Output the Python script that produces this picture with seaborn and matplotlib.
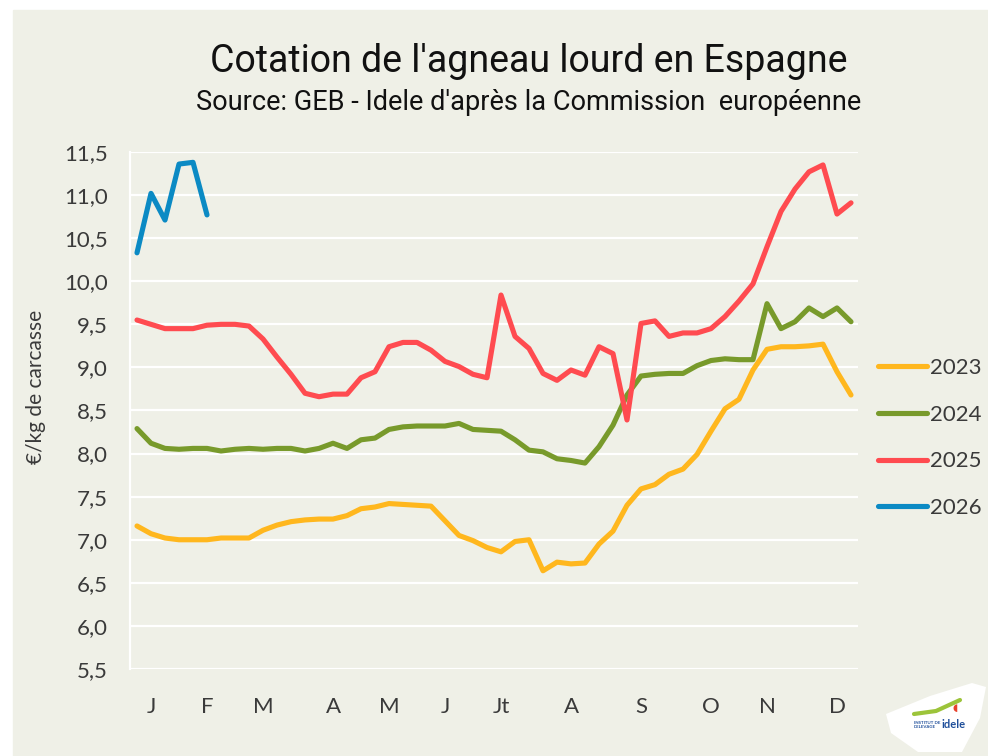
import numpy as np
import pandas as pd
import matplotlib
matplotlib.use("Agg")
import matplotlib.pyplot as plt
import matplotlib.patches as mpatches
from matplotlib.lines import Line2D
import seaborn as sns

# ── data (weekly quotation, €/kg carcass) ──
weeks = list(range(52))
month_pos = [1, 5, 9, 14, 18, 22, 26, 31, 36, 41, 45, 50]
month_labels = ["J", "F", "M", "A", "M", "J", "Jt", "A", "S", "O", "N", "D"]

y2023 = [7.16, 7.07, 7.02, 7.00, 7.00, 7.00, 7.02, 7.02, 7.02, 7.11,
         7.17, 7.21, 7.23, 7.24, 7.24, 7.28, 7.36, 7.38, 7.42, 7.41,
         7.40, 7.39, 7.22, 7.05, 6.99, 6.91, 6.86, 6.98, 7.00, 6.64,
         6.74, 6.72, 6.73, 6.95, 7.10, 7.40, 7.59, 7.64, 7.76, 7.82,
         7.99, 8.26, 8.52, 8.63, 8.97, 9.21, 9.24, 9.24, 9.25, 9.27,
         8.95, 8.68]
y2024 = [8.29, 8.12, 8.06, 8.05, 8.06, 8.06, 8.03, 8.05, 8.06, 8.05,
         8.06, 8.06, 8.03, 8.06, 8.12, 8.06, 8.16, 8.18, 8.28, 8.31,
         8.32, 8.32, 8.32, 8.35, 8.28, 8.27, 8.26, 8.16, 8.04, 8.02,
         7.94, 7.92, 7.89, 8.08, 8.33, 8.68, 8.90, 8.92, 8.93, 8.93,
         9.02, 9.08, 9.10, 9.09, 9.09, 9.74, 9.45, 9.53, 9.69, 9.59,
         9.69, 9.53]
y2025 = [9.55, 9.50, 9.45, 9.45, 9.45, 9.49, 9.50, 9.50, 9.48, 9.33,
         9.12, 8.92, 8.70, 8.66, 8.69, 8.69, 8.88, 8.95, 9.24, 9.29,
         9.29, 9.20, 9.07, 9.01, 8.92, 8.88, 9.84, 9.36, 9.22, 8.93,
         8.85, 8.97, 8.91, 9.24, 9.16, 8.39, 9.51, 9.54, 9.36, 9.40,
         9.40, 9.45, 9.59, 9.77, 9.97, 10.40, 10.81, 11.07, 11.27, 11.35,
         10.78, 10.91]
y2026 = [10.33, 11.02, 10.71, 11.36, 11.38, 10.77]

years = ["2023", "2024", "2025", "2026"]
series = [y2023, y2024, y2025, y2026]
colors = {"2023": "#FFB71E", "2024": "#789A2B", "2025": "#FF4B50", "2026": "#0B8AC4"}

df = pd.concat([
    pd.DataFrame({"week": weeks[:len(s)], "price": s, "year": yr})
    for yr, s in zip(years, series)
], ignore_index=True)

# ── style ──
sns.set_style("white")
plt.rcParams["font.family"] = ["Lato", "DejaVu Sans"]
BG = "#EFF0E7"
TXT = "#3A3A3A"

W, H = 988, 756
fig = plt.figure(figsize=(W / 100, H / 100), dpi=100, facecolor="white")
fx = lambda px: px / W
fy = lambda py: 1 - py / H

# beige panel (white strip left and top)
fig.patches.append(mpatches.Rectangle((fx(13), 0), 1 - fx(13), fy(10),
                                      transform=fig.transFigure, color=BG, zorder=-10))

ax = fig.add_axes([fx(130), fy(669), fx(858) - fx(130), fy(152) - fy(669)])
ax.set_facecolor(BG)

sns.lineplot(data=df, x="week", y="price", hue="year", palette=colors,
             linewidth=3.7, ax=ax, legend=False, solid_capstyle="round")

ax.set_xlim(-0.5, 51.5)
ax.set_ylim(5.5, 11.5)
ax.set_yticks(np.arange(5.5, 11.51, 0.5))
ax.set_yticklabels([f"{v:.1f}".replace(".", ",") for v in np.arange(5.5, 11.51, 0.5)])
ax.set_xticks(month_pos)
ax.set_xticklabels(month_labels)
ax.grid(axis="y", color="white", linewidth=1.6)
ax.grid(axis="x", visible=False)
ax.set_axisbelow(True)
for side in ["top", "right", "bottom"]:
    ax.spines[side].set_visible(False)
ax.spines["left"].set_color("white")
ax.spines["left"].set_linewidth(1.6)
ax.tick_params(axis="y", length=6, width=1.6, color="white", pad=10,
               labelsize=16, labelcolor=TXT)
ax.tick_params(axis="x", length=0, pad=20, labelsize=16, labelcolor=TXT)
ax.set_xlabel("")
ax.set_ylabel("")

fig.text(fx(36), fy(387), "€/kg de carcasse", rotation=90, ha="center",
         va="center", fontsize=15, color=TXT)

# legend
handles = [Line2D([0], [0], color=colors[y], linewidth=3.7, solid_capstyle="round")
           for y in years]
fig.legend(handles, years, loc="upper left",
           bbox_to_anchor=(fx(878), fy(358)), frameon=False, borderpad=0,
           borderaxespad=0, fontsize=16, labelcolor=TXT, handlelength=2.2,
           handletextpad=0.15, labelspacing=1.2)

# titles
title_font = ["Roboto", "DejaVu Sans"]
fig.text(fx(529), fy(62), "Cotation de l'agneau lourd en Espagne", ha="center",
         va="center", fontsize=27, color="#111111", family=title_font,
         fontstretch="condensed")
fig.text(fx(529), fy(103), "Source: GEB - Idele d'après la Commission  européenne",
         ha="center", va="center", fontsize=19.5, color="#111111", family=title_font,
         fontstretch="condensed")

# logo (approximate)
logo = [(886, 714), (930, 696), (972, 683), (986, 687), (980, 718),
        (962, 752), (918, 752), (891, 733)]
fig.patches.append(mpatches.Polygon([(fx(x), fy(y)) for x, y in logo],
                                    closed=True, transform=fig.transFigure,
                                    facecolor="white", edgecolor="none", zorder=1))
fig.lines.append(Line2D([fx(914), fx(936), fx(960)], [fy(714), fy(711), fy(700)],
                        transform=fig.transFigure, color="#9CC43A", linewidth=3,
                        zorder=2))
fig.text(fx(955), fy(708), "◖", fontsize=7, color="#E8412C", ha="center",
         va="center", zorder=3)
fig.text(fx(914), fy(725), "INSTITUT DE\nL'ELEVAGE", fontsize=3.2, color="#1E4E9A",
         ha="left", va="center", fontweight="bold", zorder=3)
fig.text(fx(941), fy(724), "idele", fontsize=8, color="#1E4E9A",
         ha="left", va="center", fontweight="bold", zorder=3)

fig.savefig("out.png", dpi=100, facecolor=fig.get_facecolor())
